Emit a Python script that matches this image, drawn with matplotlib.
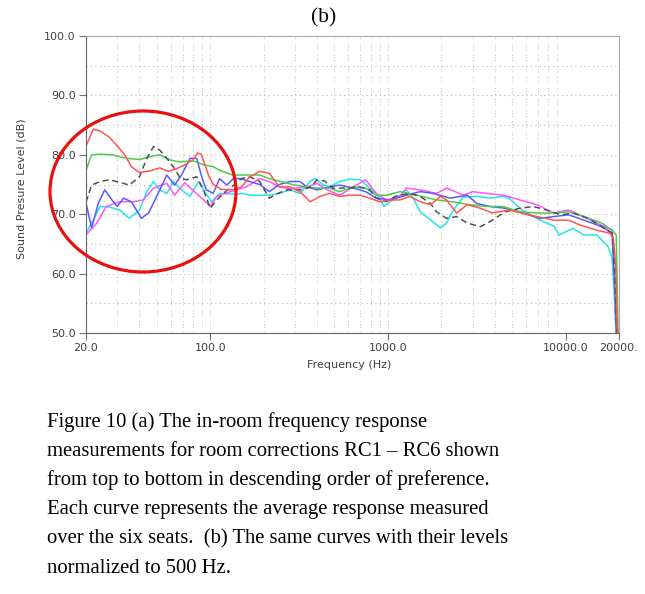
import matplotlib
matplotlib.use("Agg")
import matplotlib.pyplot as plt
from matplotlib.patches import Ellipse

# ── data (frequency in Hz, level in dB) ─────────────────────────────────────
red_f = [20, 22, 24, 27, 30, 33, 36, 40, 46, 52, 58, 64, 72, 80, 85, 89, 93, 98,
         104, 115, 134, 150, 167, 190, 215, 245, 280, 320, 365, 415, 470, 535,
         610, 700, 790, 900, 1030, 1170, 1330, 1520, 1740, 1980, 2140, 2440,
         2800, 3320, 3880, 4800, 5700, 6900, 8600, 10400, 12000, 15000, 17800,
         18600, 19200, 19500, 19700]
red_db = [81.5, 84.3, 84.0, 83.0, 81.5, 80.0, 78.0, 77.0, 77.3, 77.8, 77.2, 77.6,
          78.3, 79.2, 80.3, 80.1, 78.5, 76.5, 75.0, 74.2, 74.1, 74.6, 76.3, 77.2,
          76.9, 74.6, 74.6, 73.8, 72.1, 73.0, 73.5, 73.0, 73.2, 73.2, 72.7, 72.1,
          72.4, 72.4, 73.0, 72.1, 71.6, 73.0, 72.4, 70.2, 71.6, 71.0, 70.2, 70.7,
          70.2, 69.6, 69.0, 69.0, 68.2, 67.3, 66.8, 65.9, 61.2, 52.0, 49.0]

green_f = [20, 21.5, 24, 28, 34, 40, 46, 52, 60, 68, 80, 92, 104, 113, 134, 160,
           190, 215, 250, 300, 350, 400, 470, 535, 640, 750, 860, 980, 1170, 1460,
           1880, 2310, 2880, 3570, 4450, 5540, 6900, 8600, 10400, 12700, 16000,
           18300, 19300, 19800]
green_db = [77.4, 80.0, 80.1, 80.0, 79.4, 79.2, 79.7, 80.0, 79.1, 78.8, 79.0,
            78.3, 78.0, 77.4, 76.6, 76.6, 76.6, 76.0, 75.5, 74.9, 74.6, 74.4,
            74.4, 73.8, 74.6, 74.4, 73.2, 73.2, 73.8, 73.2, 72.4, 72.1, 71.6,
            71.3, 71.3, 70.4, 70.2, 70.2, 70.4, 69.6, 68.5, 67.3, 66.5, 49.0]

black_f = [20, 21.5, 24, 27, 31.5, 35, 40, 44, 48, 52, 57, 62, 68, 74, 84, 92,
           100, 109, 124, 140, 150, 167, 190, 215, 240, 270, 320, 365, 400, 440,
           490, 590, 690, 790, 860, 980, 1100, 1330, 1520, 1740, 1880, 2140, 2440,
           2800, 3320, 3880, 4570, 5540, 6600, 7800, 9500, 11000, 13400, 16000,
           18300, 19000, 19500]
black_db = [72.0, 74.9, 75.5, 75.8, 75.3, 74.9, 76.3, 79.4, 81.4, 80.8, 79.4,
            78.0, 76.0, 75.8, 76.3, 74.0, 71.0, 72.4, 74.0, 75.2, 76.0, 76.3,
            75.5, 72.7, 73.5, 74.1, 74.1, 74.5, 75.8, 75.6, 74.4, 74.4, 74.6,
            74.1, 72.7, 72.1, 73.0, 73.5, 73.0, 71.8, 70.4, 69.3, 69.6, 68.5,
            67.9, 69.0, 70.4, 71.0, 71.3, 70.7, 69.9, 70.2, 69.3, 67.9, 66.8,
            59.5, 49.0]

blue_f = [20, 21.5, 23.5, 25.5, 28, 30, 32.5, 36, 41, 45, 50, 57, 63, 69, 77, 84,
          89, 95, 104, 113, 124, 135, 148, 167, 190, 215, 245, 280, 320, 350, 400,
          470, 535, 640, 750, 860, 1030, 1270, 1520, 1800, 2240, 2800, 3170, 3750,
          4570, 5700, 7200, 8600, 10400, 12700, 16000, 18300, 19000, 19400]
blue_db = [71.9, 67.7, 71.9, 74.1, 72.4, 71.3, 72.7, 72.1, 69.3, 70.2, 73.0,
           76.6, 74.9, 76.6, 79.4, 79.4, 76.6, 74.1, 73.5, 76.0, 74.9, 76.0,
           76.0, 75.5, 75.0, 73.8, 75.0, 75.5, 75.5, 74.6, 74.1, 74.6, 74.9,
           74.4, 73.8, 72.7, 72.4, 73.2, 73.8, 73.5, 72.7, 73.2, 71.8, 71.3,
           71.0, 70.2, 69.3, 69.6, 69.9, 69.0, 67.9, 66.8, 56.0, 49.0]

magenta_f = [20, 23, 26, 31, 37, 42, 48, 57, 63, 72, 80, 92, 100, 109, 130, 160,
             190, 215, 245, 280, 350, 400, 450, 535, 640, 750, 860, 980, 1170,
             1270, 1520, 1880, 2150, 2660, 3000, 3570, 4450, 5540, 6900, 8600,
             10400, 12000, 15000, 18300, 19200, 19600]
magenta_db = [66.5, 68.5, 71.3, 72.1, 72.1, 72.4, 74.4, 75.2, 73.2, 75.3, 74.0,
              72.4, 71.3, 73.0, 73.8, 74.6, 76.0, 75.5, 74.6, 74.3, 74.6, 75.2,
              74.2, 73.2, 74.6, 75.8, 73.5, 72.4, 73.0, 74.4, 74.1, 73.5, 74.4,
              73.2, 73.8, 73.5, 73.2, 72.4, 71.6, 70.2, 70.7, 69.9, 68.5, 67.3,
              60.0, 49.0]

cyan_f = [20, 22, 24, 27, 31, 35, 40, 44, 48, 52, 57, 62, 69, 77, 86, 93, 102,
          113, 135, 153, 167, 190, 215, 245, 280, 320, 365, 390, 430, 470, 535,
          610, 700, 790, 900, 950, 1030, 1170, 1270, 1390, 1520, 1740, 1980, 2140,
          2310, 2660, 3170, 3750, 4450, 4800, 5700, 7200, 8600, 9200, 11000,
          12700, 15000, 17400, 18300, 18800, 19100, 19300]
cyan_db = [66.8, 69.0, 71.3, 71.2, 70.7, 69.3, 70.7, 73.8, 75.5, 74.1, 73.5,
           75.5, 74.1, 73.0, 75.5, 73.8, 72.1, 73.5, 73.4, 73.5, 73.2, 73.2,
           73.2, 73.5, 74.1, 73.5, 75.5, 76.0, 75.0, 74.6, 75.5, 75.9, 75.8,
           74.4, 72.7, 71.3, 72.1, 73.2, 74.1, 72.7, 70.4, 69.0, 67.7, 68.5,
           70.5, 72.9, 73.0, 72.7, 73.0, 72.7, 70.7, 69.0, 68.0, 66.5, 67.6,
           66.5, 66.5, 64.5, 62.6, 56.7, 51.7, 49.0]

x_ticks = [20, 100, 1000, 10000, 20000]
x_tick_labels = ["20.0", "100.0", "1000.0", "10000.0", "20000."]
y_ticks = [50, 60, 70, 80, 90, 100]
y_tick_labels = ["50.0", "60.0", "70.0", "80.0", "90.0", "100.0"]

caption = [
    "Figure 10 (a) The in-room frequency response",
    "measurements for room corrections RC1 \u2013 RC6 shown",
    "from top to bottom in descending order of preference.",
    "Each curve represents the average response measured",
    "over the six seats.  (b) The same curves with their levels",
    "normalized to 500 Hz.",
]

W, H = 645, 594
fig = plt.figure(figsize=(W / 100, H / 100), dpi=100)
ax = fig.add_axes([86 / W, 1 - 333 / H, 533 / W, 297 / H])

# grid: gray dotted horizontals, gray + green dotted verticals
for v in range(55, 100, 5):
    ax.axhline(v, color="#bcbcbc", lw=0.8, ls=(0, (1, 3)), zorder=0)
for dec in (10, 100, 1000):
    for m in range(1, 10):
        f = dec * m
        if 20 < f < 20000:
            ax.axvline(f, color="#c8c8c8", lw=0.8, ls=(0, (1, 4)), zorder=0)
            ax.axvline(f, color="#a6dca6", lw=0.8, ls=(2.5, (1, 9)), zorder=0)

lw = 1.1
ax.plot(cyan_f, cyan_db, color="#22e6e6", lw=lw)
ax.plot(magenta_f, magenta_db, color="#ff55ff", lw=lw)
ax.plot(blue_f, blue_db, color="#5a5aff", lw=lw)
ax.plot(green_f, green_db, color="#4ccc4c", lw=lw)
ax.plot(black_f, black_db, color="#505050", lw=lw, ls=(0, (4, 2.5)))
ax.plot(red_f, red_db, color="#ff5555", lw=lw)

ax.set_xscale("log")
ax.set_xlim(20, 20000)
ax.set_ylim(50, 100)
ax.set_xticks(x_ticks)
ax.set_xticklabels(x_tick_labels)
ax.xaxis.set_minor_locator(matplotlib.ticker.NullLocator())
ax.set_yticks(y_ticks)
ax.set_yticklabels(y_tick_labels)
ax.tick_params(direction="out", length=5, width=0.8, color="#707070",
               labelsize=8, labelcolor="#404040", pad=2.5)
for s in ("left", "bottom"):
    ax.spines[s].set_color("#666666")
for s in ("top", "right"):
    ax.spines[s].set_color("#a8a8a8")

# red highlight ring around the low-frequency region
ring = Ellipse((143 / W, 1 - 191.5 / H), 186 / W, 161 / H, transform=fig.transFigure,
               fill=False, edgecolor="#e81010", lw=2.3, clip_on=False, zorder=10)
fig.add_artist(ring)

fig.text(349 / W, 1 - 365 / H, "Frequency (Hz)", ha="center", va="center",
         fontsize=8, color="#404040")
fig.text(22 / W, 1 - 189 / H, "Sound Presure Level (dB)", ha="center", va="center",
         rotation=90, fontsize=8, color="#404040")
fig.text(323.5 / W, 1 - 22 / H, "(b)", ha="center", va="baseline",
         fontsize=15.5, family="Liberation Serif")
for i, line in enumerate(caption):
    fig.text(47 / W, 1 - (426.7 + 29.2 * i) / H, line, ha="left", va="baseline",
             fontsize=14.9, family="Liberation Serif")

fig.savefig("out.png", dpi=100)
